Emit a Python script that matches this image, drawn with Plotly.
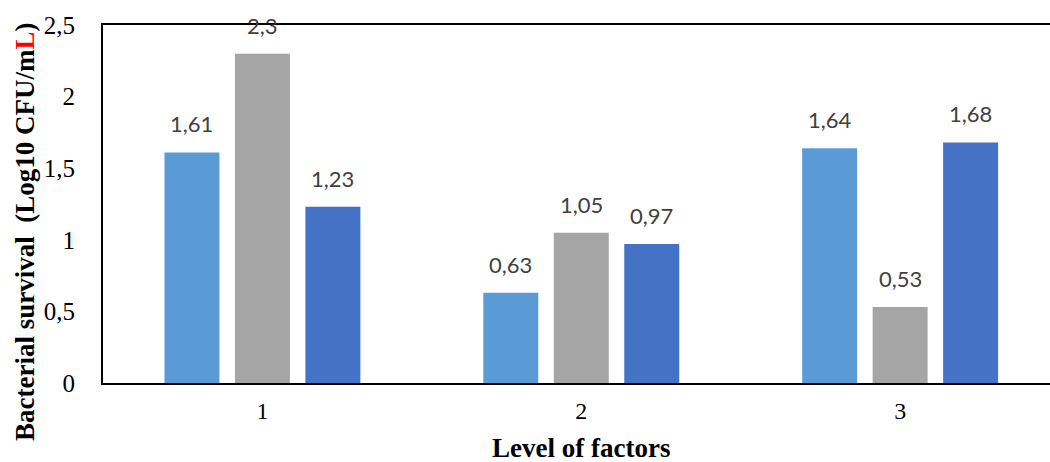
import plotly.graph_objects as go

# Bacterial survival per level of factors (three series)
levels = [1, 2, 3]
level_labels = ["1", "2", "3"]
series_a = [1.61, 0.63, 1.64]
series_b = [2.30, 1.05, 0.53]
series_c = [1.23, 0.97, 1.68]
series_names = ["Series 1", "Series 2", "Series 3"]
colors = ["#5B9BD5", "#A5A5A5", "#4472C4"]
y_ticks = [0, 0.5, 1, 1.5, 2, 2.5]

BARGAP = 0.337
BARGROUPGAP = 0.22

fig = go.Figure()
all_series = [series_a, series_b, series_c]
for name, vals, col in zip(series_names, all_series, colors):
    fig.add_trace(go.Bar(x=levels, y=vals, name=name, marker=dict(color=col, line=dict(width=0))))

# value labels above each bar
slot = (1 - BARGAP) / len(all_series)
annotations = []
for k, vals in enumerate(all_series):
    off = (k - (len(all_series) - 1) / 2) * slot
    for lv, v in zip(levels, vals):
        annotations.append(dict(
            x=lv + off, y=v, xref="x", yref="y",
            text=f"{v:g}".replace(".", ","),
            showarrow=False, yanchor="bottom", yshift=13,
            font=dict(family="Lato", size=22, color="#404040"),
        ))

# axis titles
annotations.append(dict(
    x=-0.0824, y=0.422, xref="paper", yref="paper",
    text="Bacterial survival  (Log10 CFU/m<span style='color:#FF0000'>L</span>)",
    textangle=-90, showarrow=False, xanchor="center", yanchor="middle",
    font=dict(family="Liberation Serif", size=27, color="#000000", weight="bold"),
))
annotations.append(dict(
    x=0.505, y=-0.182, xref="paper", yref="paper",
    text="Level of factors", showarrow=False, xanchor="center", yanchor="middle",
    font=dict(family="Liberation Serif", size=27, color="#000000", weight="bold"),
))

fig.update_layout(
    width=1050, height=462,
    margin=dict(l=103, r=0, t=25, b=79),
    paper_bgcolor="white", plot_bgcolor="white",
    barmode="group", bargap=BARGAP, bargroupgap=BARGROUPGAP,
    separators=", ",
    showlegend=False,
    annotations=annotations,
    xaxis=dict(
        range=[0.5, 3.47], tickvals=levels, ticktext=level_labels,
        showline=True, linecolor="black", linewidth=2, mirror=True,
        showgrid=False, zeroline=False, ticks="", ticklabelstandoff=5,
        tickfont=dict(family="Liberation Serif", size=24, color="#000000"),
    ),
    yaxis=dict(
        range=[0, 2.5], tickvals=y_ticks,
        showline=True, linecolor="black", linewidth=2, mirror=False,
        showgrid=False, zeroline=False, ticks="", ticklabelstandoff=21,
        tickfont=dict(family="Liberation Serif", size=25, color="#000000"),
    ),
)

fig.write_html("out.html")
